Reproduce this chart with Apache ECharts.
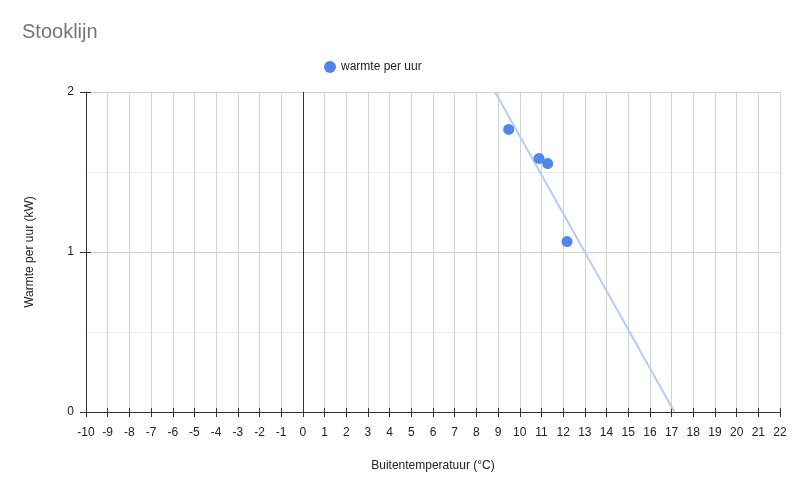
<!DOCTYPE html>
<html>
<head>
<meta charset="utf-8">
<script src="https://cdn.jsdelivr.net/npm/echarts@6/dist/echarts.min.js"></script>
<style>
  html, body { margin: 0; padding: 0; background: #fff; }
  #chart { width: 800px; height: 481px; }
</style>
</head>
<body>
<div id="chart"></div>
<script>
  // data
  var temperatures = [9.49, 10.89, 11.29, 12.18];
  var heatPerHour = [1.766, 1.585, 1.553, 1.065];
  var seriesName = 'warmte per uur';

  var points = temperatures.map(function (t, i) {
    return [t, heatPerHour[i]];
  });

  // lineaire trendlijn (kleinste kwadraten) uit de punten
  var n = points.length, mx = 0, my = 0;
  points.forEach(function (p) { mx += p[0] / n; my += p[1] / n; });
  var sxy = 0, sxx = 0;
  points.forEach(function (p) {
    sxy += (p[0] - mx) * (p[1] - my);
    sxx += (p[0] - mx) * (p[0] - mx);
  });
  var slope = sxy / sxx;
  var trend = [
    [mx + (2 - my) / slope, 2],
    [mx + (0 - my) / slope, 0]
  ];

  var chart = echarts.init(document.getElementById('chart'));

  var gridBox = { left: 86, right: 20, top: 92, bottom: 69 };

  var option = {
    animation: false,
    textStyle: { fontFamily: 'Liberation Sans, Arial, sans-serif' },
    title: {
      text: 'Stooklijn',
      left: 17,
      top: 17,
      textStyle: { fontSize: 20, fontWeight: 'normal', color: '#757575' }
    },
    legend: {
      data: [{ name: seriesName, icon: 'circle' }],
      left: 319,
      top: 56,
      itemWidth: 12,
      itemHeight: 12,
      itemGap: 10,
      textStyle: { fontSize: 12, color: '#222' }
    },
    // tweede grid alleen voor de binnenste helft van de tickstreepjes
    grid: [gridBox, gridBox],
    xAxis: [{
      type: 'value',
      min: -10,
      max: 22,
      interval: 1,
      name: 'Buitentemperatuur (°C)',
      nameLocation: 'middle',
      nameGap: 48,
      nameTextStyle: { fontSize: 12, color: '#222' },
      axisLine: { onZero: false, lineStyle: { color: '#333', width: 1 } },
      axisTick: { show: true, length: 5, lineStyle: { color: '#333' } },
      axisLabel: { fontSize: 12, color: '#222', margin: 15 },
      splitLine: { show: true, lineStyle: { color: '#d3d3d3', width: 1 } }
    }, {
      gridIndex: 1,
      type: 'value',
      min: -10,
      max: 22,
      interval: 1,
      axisLine: { show: false, onZero: false },
      axisTick: { show: true, inside: true, length: 4, lineStyle: { color: '#333' } },
      axisLabel: { show: false },
      splitLine: { show: false }
    }],
    yAxis: [{
      type: 'value',
      min: 0,
      max: 2,
      interval: 1,
      name: 'Warmte per uur (kW)',
      nameLocation: 'middle',
      nameGap: 50,
      nameTextStyle: { fontSize: 12, color: '#222' },
      axisLine: { show: true, onZero: false, lineStyle: { color: '#333', width: 1 } },
      axisTick: { show: true, length: 6, lineStyle: { color: '#333' } },
      axisLabel: { fontSize: 12, color: '#222', margin: 12 },
      splitLine: { show: true, lineStyle: { color: '#d0d0d0' } },
      minorTick: { show: false, splitNumber: 2 },
      minorSplitLine: { show: true, lineStyle: { color: '#ececec' } }
    }, {
      gridIndex: 1,
      type: 'value',
      min: 0,
      max: 2,
      interval: 1,
      axisLine: { show: false, onZero: false },
      axisTick: { show: true, inside: true, length: 5, lineStyle: { color: '#333' } },
      axisLabel: { show: false },
      splitLine: { show: false }
    }],
    series: [{
      name: seriesName,
      type: 'scatter',
      data: points,
      symbolSize: 11,
      itemStyle: { color: '#4f86ec', opacity: 1 },
      z: 5,
      markLine: {
        silent: true,
        symbol: 'none',
        label: { show: false },
        lineStyle: { color: '#333', type: 'solid', width: 1 },
        data: [{ xAxis: 0 }]
      }
    }, {
      name: 'trendlijn',
      type: 'line',
      data: trend,
      symbol: 'none',
      lineStyle: { color: '#b3cdf7', width: 2 },
      z: 4
    }]
  };

  chart.setOption(option);
</script>
</body>
</html>
